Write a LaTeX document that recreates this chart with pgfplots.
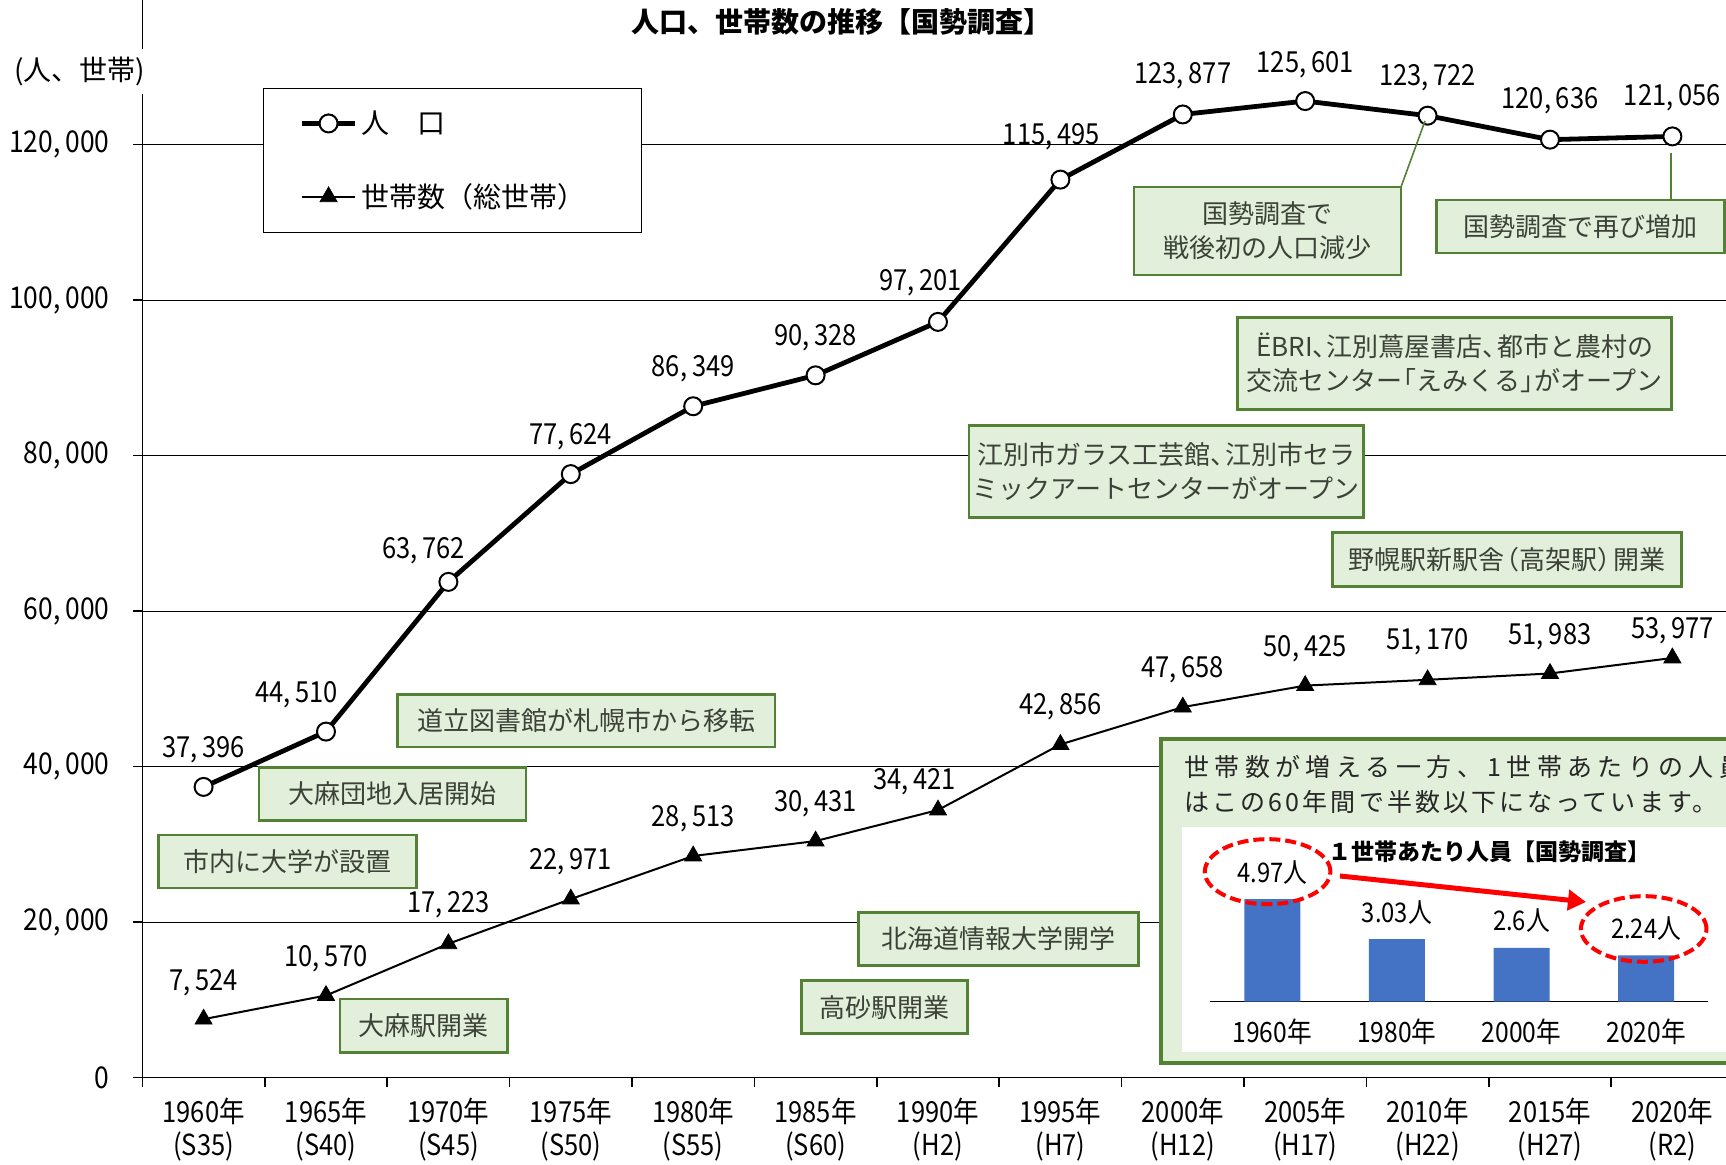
\documentclass[border=0pt]{standalone}
\usepackage{fontspec}
\setmainfont{Noto Sans CJK JP}
\newfontfamily\nar[FakeStretch=0.88]{Noto Sans CJK JP}
\newfontfamily\spa[LetterSpace=21.5]{Noto Sans CJK JP}
\newfontfamily\spb[LetterSpace=12.5]{Noto Sans CJK JP}
\usepackage{pgfplots}
\pgfplotsset{compat=1.18}
\usetikzlibrary{arrows.meta}
\definecolor{gfill}{RGB}{226,239,218}
\definecolor{gdraw}{RGB}{84,130,53}
\definecolor{gtext}{RGB}{60,66,56}
\definecolor{barblue}{RGB}{68,114,196}
\newcommand\numfont{\nar\fontsize{14.5}{17}\selectfont}
\newcommand\tc{、\kern-0.45em}
\newcommand\lb{\kern-0.45em「}
\newcommand\rb{」\kern-0.45em}
\newcommand\lp{\kern-0.4em（}
\newcommand\rp{）\kern-0.4em}
\begin{document}
\begin{tikzpicture}
\begin{axis}[
 at={(0,0)}, anchor=south west, scale only axis,
 width=791.8pt, height=538.85pt,
 xmin=-0.5, xmax=12.438, ymin=0, ymax=138600,
 axis x line*=bottom, axis y line*=left,
 axis line style={black, line width=0.8pt},
 tick align=outside,
 xtick={0,...,12},
 xticklabels={{1960年\\(S35)},{1965年\\(S40)},{1970年\\(S45)},{1975年\\(S50)},{1980年\\(S55)},{1985年\\(S60)},{1990年\\(H2)},{1995年\\(H7)},{2000年\\(H12)},{2005年\\(H17)},{2010年\\(H22)},{2015年\\(H27)},{2020年\\(R2)}},
 major x tick style={draw=none},
 minor xtick={-0.5,0.5,...,12.5},
 minor tick length=4.5pt,
 minor x tick style={black, line width=0.8pt},
 ytick={0,20000,40000,60000,80000,100000,120000},
 yticklabels={0,{20,\,000},{40,\,000},{60,\,000},{80,\,000},{100,\,000},{120,\,000}},
 major tick length=4.5pt,
 major y tick style={black, line width=0.8pt},
 ymajorgrids, grid style={black, line width=0.6pt},
 tick label style={font=\nar\fontsize{15}{16.5}\selectfont, black},
 xticklabel style={align=center, yshift=-2.3pt, font=\nar\fontsize{14.5}{16.5}\selectfont},
 yticklabel style={xshift=-8.5pt},
 clip=false,
 legend style={at={(0.0762,0.9183)}, anchor=north west, draw=black, line width=0.6pt, fill=white,
   inner xsep=18pt, inner ysep=9pt, row sep=19.5pt, font=\fontsize{14}{16}\selectfont,
   cells={anchor=west}, nodes={inner xsep=2pt}},
 legend image code/.code={\draw[mark repeat=2,mark phase=2,#1] plot coordinates {(0pt,0pt)(13.25pt,0pt)(26.5pt,0pt)};},
]
\addplot[black, line width=2.4pt, mark=*, mark size=4.5pt, mark options={fill=white, draw=black, line width=1pt}]
 coordinates {(0,37396)(1,44510)(2,63762)(3,77624)(4,86349)(5,90328)(6,97201)(7,115495)(8,123877)(9,125601)(10,123722)(11,120636)(12,121056)};
\addlegendentry{人　口}
\addplot[black, line width=1pt, mark=triangle*, mark size=4.9pt, mark options={fill=black, draw=black, line width=0.4pt}]
 coordinates {(0,7524)(1,10570)(2,17223)(3,22971)(4,28513)(5,30431)(6,34421)(7,42856)(8,47658)(9,50425)(10,51170)(11,51983)(12,53977)};
\addlegendentry{世帯数（総世帯）\hspace*{8pt}}
% population labels
\node[font=\numfont, yshift=18.7pt] at (axis cs:0,37396) {37,\,396};
\node[font=\numfont, xshift=-14.8pt, yshift=18.3pt] at (axis cs:1,44510) {44,\,510};
\node[font=\numfont, xshift=-12.3pt, yshift=15.8pt] at (axis cs:2,63762) {63,\,762};
\node[font=\numfont, yshift=18.6pt] at (axis cs:3,77624) {77,\,624};
\node[font=\numfont, yshift=18.8pt] at (axis cs:4,86349) {86,\,349};
\node[font=\numfont, yshift=18.8pt] at (axis cs:5,90328) {90,\,328};
\node[font=\numfont, xshift=-8.7pt, yshift=19.4pt] at (axis cs:6,97201) {97,\,201};
\node[font=\numfont, xshift=-4.5pt, yshift=21.5pt] at (axis cs:7,115495) {115,\,495};
\node[font=\numfont, yshift=19.2pt] at (axis cs:8,123877) {123,\,877};
\node[font=\numfont, yshift=18.4pt] at (axis cs:9,125601) {125,\,601};
\node[font=\numfont, yshift=19.2pt] at (axis cs:10,123722) {123,\,722};
\node[font=\numfont, yshift=19.3pt] at (axis cs:11,120636) {120,\,636};
\node[font=\numfont, yshift=19.1pt] at (axis cs:12,121056) {121,\,056};
% household labels
\node[font=\numfont, yshift=18pt] at (axis cs:0,7524) {7,\,524};
\node[font=\numfont, yshift=18.6pt] at (axis cs:1,10570) {10,\,570};
\node[font=\numfont, yshift=19.4pt] at (axis cs:2,17223) {17,\,223};
\node[font=\numfont, yshift=18.7pt] at (axis cs:3,22971) {22,\,971};
\node[font=\numfont, yshift=18.8pt] at (axis cs:4,28513) {28,\,513};
\node[font=\numfont, yshift=18.9pt] at (axis cs:5,30431) {30,\,431};
\node[font=\numfont, xshift=-11.7pt, yshift=14.2pt] at (axis cs:6,34421) {34,\,421};
\node[font=\numfont, yshift=18.9pt] at (axis cs:7,42856) {42,\,856};
\node[font=\numfont, yshift=18.9pt] at (axis cs:8,47658) {47,\,658};
\node[font=\numfont, yshift=18.6pt] at (axis cs:9,50425) {50,\,425};
\node[font=\numfont, yshift=19pt] at (axis cs:10,51170) {51,\,170};
\node[font=\numfont, yshift=18.6pt] at (axis cs:11,51983) {51,\,983};
\node[font=\numfont, yshift=13.6pt] at (axis cs:12,53977) {53,\,977};
\end{axis}

\begin{scope}[shift={(-71.2pt,538.85pt)}, x=0.5pt, y=-0.5pt,
  gbox/.style={draw=gdraw, line width=1.3pt, fill=gfill, text=gtext, align=center,
    font=\fontsize{13}{17}\selectfont, inner sep=0pt}]
\node[font=\bfseries\fontsize{14}{16}\selectfont] at (841,22) {人口、世帯数の推移【国勢調査】};
\node[fill=white, inner xsep=2pt, inner ysep=4pt, font=\fontsize{14}{16}\selectfont] at (80,72) {(人、世帯)};
% annotation boxes
\draw[gdraw, line width=0.8pt] (1425,121) -- (1401,187);
\node[gbox, minimum width=133.5pt, minimum height=44pt] at (1267.5,231) {国勢調査で\\戦後初の人口減少};
\draw[gdraw, line width=0.8pt] (1671,153) -- (1671,200);
\node[gbox, minimum width=144pt, minimum height=26.5pt] at (1580.7,226.5) {国勢調査で再び増加};
\node[gbox, minimum width=217pt, minimum height=46pt] at (1454.7,363.3) {ËBRI\tc 江別蔦屋書店\tc 都市と農村の\\交流センター\lb えみくる\rb がオープン};
\node[gbox, minimum width=197.3pt, minimum height=45.8pt] at (1166.1,471.5) {江別市ガラス工芸館\tc 江別市セラ\\ミックアートセンターがオープン};
\node[gbox, minimum width=174.5pt, minimum height=27.2pt] at (1506.7,559.5) {野幌駅新駅舎\lp 高架駅\rp 開業};
\node[gbox, minimum width=188.8pt, minimum height=26.2pt] at (586.2,720.7) {道立図書館が札幌市から移転};
\node[gbox, minimum width=133.5pt, minimum height=26.6pt] at (392.6,794) {大麻団地入居開始};
\node[gbox, minimum width=129pt, minimum height=26.6pt] at (287.4,861.6) {市内に大学が設置};
\node[gbox, minimum width=139.8pt, minimum height=26.4pt] at (998.4,939) {北海道情報大学開学};
\node[gbox, minimum width=83.1pt, minimum height=26.4pt] at (884.5,1007.2) {高砂駅開業};
\node[gbox, minimum width=83.8pt, minimum height=26.8pt] at (423.6,1025.9) {大麻駅開業};
% inset panel
\draw[gdraw, line width=2pt, fill=gfill] (1161,739) rectangle (1780,1063);
\fill[white] (1182,827) rectangle (1780,1052);
\node[anchor=west, inner sep=0pt, font=\spa\fontsize{12.5}{15}\selectfont, text={rgb,255:red,38;green,38;blue,38}] at (1184,767) {世帯数が増える一方、1世帯あたりの人員};
\node[anchor=west, inner sep=0pt, font=\spb\fontsize{12.5}{15}\selectfont, text={rgb,255:red,38;green,38;blue,38}] at (1184,802) {はこの60年間で半数以下になっています。};
\node[font=\bfseries\fontsize{11.5}{14}\selectfont] at (1489,852) {１世帯あたり人員【国勢調査】};
\end{scope}

\begin{axis}[
 at={(533.8pt,38pt)}, anchor=south west, scale only axis,
 width=249.2pt, height=61.95pt,
 xmin=-0.5, xmax=3.5, ymin=0, ymax=6,
 axis x line*=bottom, axis y line=none,
 axis line style={black, line width=0.8pt},
 ybar, bar width=28pt,
 xtick={0,1,2,3}, xticklabels={1960年,1980年,2000年,2020年},
 major tick length=0pt,
 ticklabel style={font=\nar\fontsize{14}{16}\selectfont, black},
 xticklabel style={yshift=-5pt},
 /pgf/number format/assume math mode=true,
 nodes near coords={\pgfmathprintnumber{\pgfplotspointmeta}人},
 nodes near coords style={font=\nar\fontsize{13.5}{15}\selectfont, anchor=center, yshift=13.5pt, black},
 clip=false,
]
\addplot[fill=barblue, draw=none] coordinates {(0,4.97)(1,3.03)(2,2.6)(3,2.24)};
\end{axis}

\begin{scope}[shift={(-71.2pt,538.85pt)}, x=0.5pt, y=-0.5pt]
\draw[red, line width=2pt, dash pattern=on 5.5pt off 2.5pt] (1267.6,871.7) ellipse [x radius=31.4pt, y radius=16.25pt];
\draw[red, line width=2pt, dash pattern=on 5.5pt off 2.5pt] (1643.7,929) ellipse [x radius=31.4pt, y radius=16.4pt];
\draw[red, line width=2.5pt, -{Triangle[length=9pt, width=10pt]}] (1340,876) -- (1586,902);
\end{scope}
\pgfresetboundingbox
\useasboundingbox (-71.2pt,-43.65pt) rectangle (791.8pt,538.85pt);
\end{tikzpicture}
\end{document}
